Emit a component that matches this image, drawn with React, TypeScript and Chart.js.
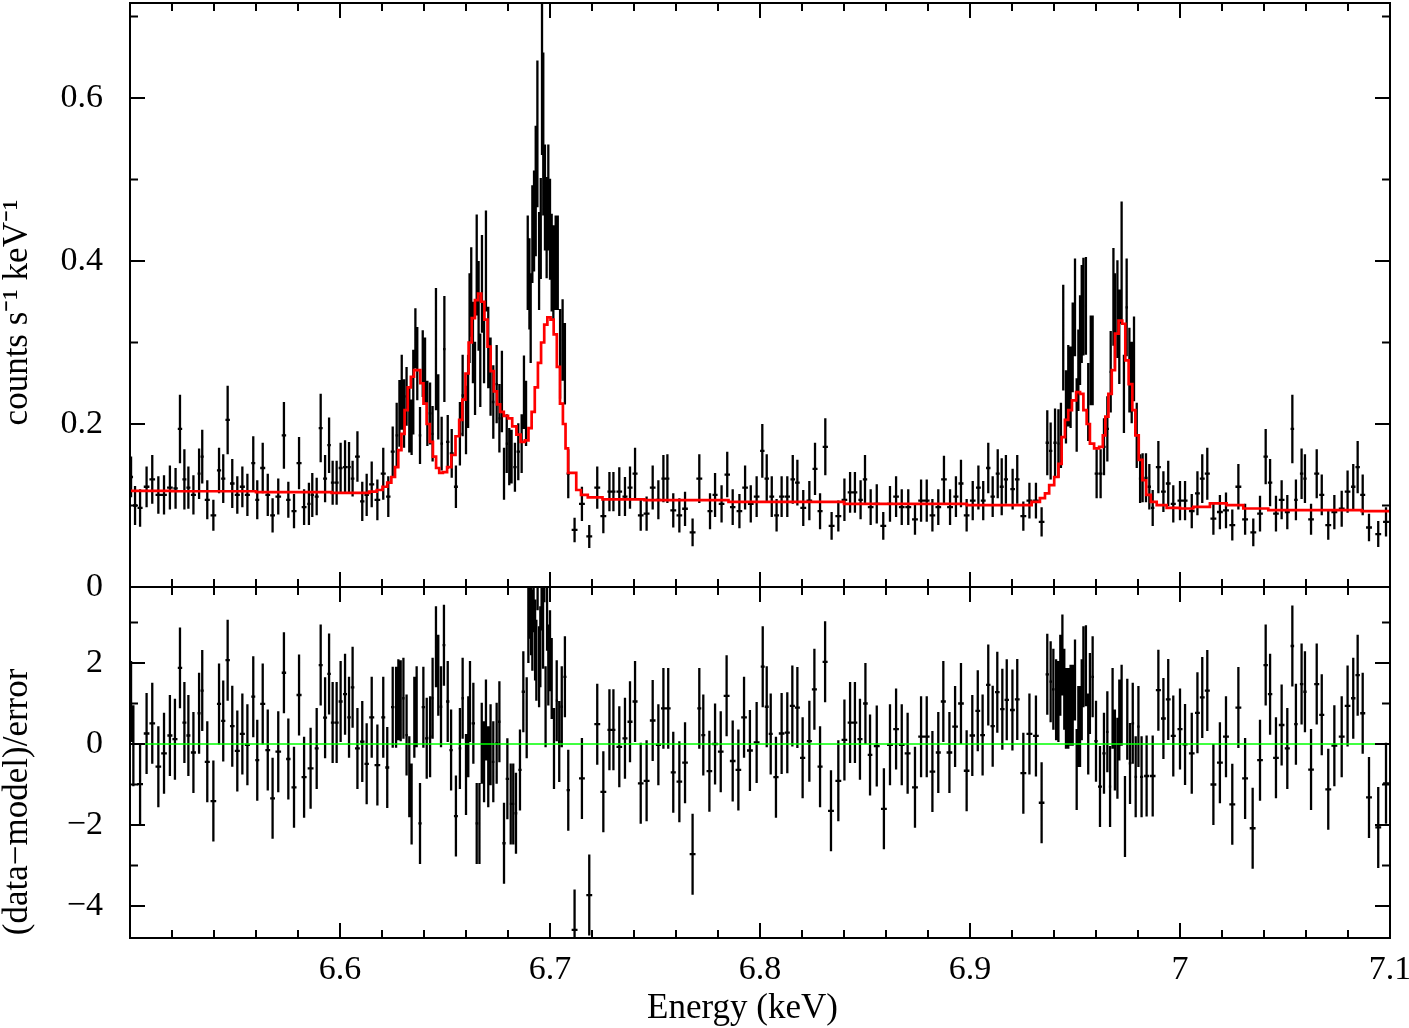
import React, { useEffect, useRef } from 'react';
import { Chart, registerables } from 'chart.js';

Chart.register(...registerables);

// ---------------- data: spectrum (top panel) ----------------
const topEnergy = [
  6.5005, 6.5024, 6.5048, 6.5079, 6.5106, 6.5135, 6.5162, 6.5190, 6.5217, 6.5238,
  6.5259, 6.5278, 6.5302, 6.5329, 6.5344, 6.5368, 6.5397, 6.5424, 6.5444, 6.5465,
  6.5487, 6.5511, 6.5535, 6.5559, 6.5587, 6.5606, 6.5632, 6.5656, 6.5679, 6.5706,
  6.5733, 6.5754, 6.5781, 6.5805, 6.5829, 6.5852, 6.5868, 6.5889, 6.5908, 6.5929,
  6.5948, 6.5965, 6.5984, 6.6003, 6.6024, 6.6043, 6.6060, 6.6083, 6.6106, 6.6127,
  6.6151, 6.6178,
  6.6206, 6.6230, 6.6251, 6.6270, 6.6283, 6.6294, 6.6305, 6.6317, 6.6330, 6.6341,
  6.6349, 6.6359, 6.6368, 6.6381, 6.6394, 6.6405, 6.6416, 6.6429, 6.6441, 6.6457,
  6.6468, 6.6484, 6.6497, 6.6513, 6.6532, 6.6552, 6.6571, 6.6584, 6.6600, 6.6610,
  6.6617, 6.6625, 6.6633, 6.6643, 6.6651, 6.6660, 6.6668, 6.6676, 6.6686, 6.6695,
  6.6706, 6.6717, 6.6730, 6.6746, 6.6759, 6.6771, 6.6781, 6.6794, 6.6806, 6.6817,
  6.6833, 6.6849, 6.6865, 6.6876, 6.6886,
  6.6894, 6.6902, 6.6908, 6.6916, 6.6924, 6.6932, 6.6940, 6.6948, 6.6956, 6.6962,
  6.6968, 6.6976, 6.6984, 6.6992, 6.7000, 6.7008, 6.7016, 6.7027, 6.7037, 6.7048,
  6.7060, 6.7071, 6.7087,
  6.7117, 6.7152, 6.7187, 6.7225, 6.7254, 6.7283, 6.7302, 6.7330, 6.7357, 6.7381,
  6.7405, 6.7432, 6.7460, 6.7489, 6.7516, 6.7540, 6.7559, 6.7587, 6.7616, 6.7643,
  6.7679, 6.7711,
  6.7762, 6.7786, 6.7817, 6.7844, 6.7870, 6.7902, 6.7929, 6.7956, 6.7984, 6.8011,
  6.8032, 6.8056, 6.8079, 6.8103, 6.8130, 6.8156, 6.8178, 6.8206, 6.8235, 6.8262,
  6.8286, 6.8311, 6.8341, 6.8373, 6.8402, 6.8429, 6.8452, 6.8479, 6.8500, 6.8527,
  6.8556, 6.8587, 6.8619, 6.8648, 6.8675, 6.8706, 6.8738, 6.8767, 6.8794, 6.8821,
  6.8849, 6.8876, 6.8905, 6.8933, 6.8957, 6.8984, 6.9013, 6.9040, 6.9063, 6.9087,
  6.9108, 6.9132,
  6.9151, 6.9171, 6.9203, 6.9225, 6.9254, 6.9283, 6.9314, 6.9341, 6.9368, 6.9384,
  6.9405, 6.9421, 6.9433, 6.9444, 6.9457, 6.9468, 6.9479, 6.9489, 6.9500, 6.9508,
  6.9516, 6.9524, 6.9532, 6.9540, 6.9552, 6.9563, 6.9575, 6.9584, 6.9603, 6.9622,
  6.9638, 6.9654, 6.9670, 6.9683, 6.9690, 6.9702, 6.9711, 6.9722, 6.9733, 6.9746,
  6.9759, 6.9770, 6.9781, 6.9794, 6.9810, 6.9822, 6.9838, 6.9854, 6.9870,
  6.9897, 6.9921, 6.9944, 6.9968, 7.0000, 7.0024, 7.0056, 7.0083, 7.0106, 7.0130,
  7.0159, 7.0190, 7.0219, 7.0249, 7.0278, 7.0310, 7.0349, 7.0381, 7.0408, 7.0429,
  7.0457, 7.0484, 7.0511, 7.0535, 7.0552, 7.0579, 7.0595, 7.0624, 7.0651, 7.0675,
  7.0706, 7.0735, 7.0770, 7.0798, 7.0825, 7.0846, 7.0870, 7.0900, 7.0944, 7.0981,
];

const topRate = [
  0.135, 0.100, 0.097, 0.123, 0.132, 0.113, 0.113, 0.122, 0.121, 0.194,
  0.132, 0.122, 0.113, 0.139, 0.160, 0.107, 0.088, 0.143, 0.133, 0.205,
  0.127, 0.113, 0.123, 0.113, 0.152, 0.107, 0.146, 0.113, 0.088, 0.111,
  0.186, 0.107, 0.093, 0.152, 0.098, 0.102, 0.113, 0.111, 0.195, 0.133,
  0.174, 0.128, 0.128, 0.146, 0.147, 0.147, 0.133, 0.160, 0.105, 0.113,
  0.126, 0.107,
  0.139, 0.111, 0.166, 0.186, 0.213, 0.239, 0.213, 0.234, 0.205, 0.196,
  0.239, 0.305, 0.274, 0.186, 0.274, 0.266, 0.213, 0.213, 0.188, 0.292,
  0.221, 0.176, 0.292, 0.178, 0.164, 0.123, 0.188, 0.235, 0.205, 0.240,
  0.330, 0.362, 0.300, 0.256, 0.395, 0.345, 0.266, 0.372, 0.300, 0.400,
  0.294, 0.258, 0.227, 0.249, 0.207, 0.240, 0.139, 0.176, 0.160, 0.160,
  0.147, 0.166, 0.176, 0.239, 0.213,
  0.398, 0.372, 0.330, 0.433, 0.449, 0.486, 0.556, 0.400, 0.440, 0.630,
  0.556, 0.478, 0.441, 0.478, 0.439, 0.398, 0.386, 0.398, 0.398, 0.286,
  0.303, 0.274, 0.139,
  0.070, 0.102, 0.062, 0.122, 0.087, 0.117, 0.117, 0.117, 0.111, 0.122,
  0.139, 0.088, 0.090, 0.122, 0.107, 0.133, 0.133, 0.094, 0.088, 0.096,
  0.067, 0.133,
  0.093, 0.113, 0.102, 0.138, 0.098, 0.093, 0.122, 0.102, 0.111, 0.167,
  0.133, 0.111, 0.088, 0.111, 0.111, 0.132, 0.128, 0.097, 0.106, 0.145,
  0.093, 0.172, 0.075, 0.087, 0.107, 0.116, 0.116, 0.107, 0.132, 0.098,
  0.102, 0.075, 0.102, 0.111, 0.098, 0.098, 0.083, 0.106, 0.106, 0.088,
  0.098, 0.132, 0.098, 0.111, 0.127, 0.088, 0.106, 0.122, 0.106, 0.146,
  0.111, 0.139,
  0.123, 0.132, 0.120, 0.132, 0.087, 0.106, 0.106, 0.080, 0.177, 0.167,
  0.177, 0.176, 0.186, 0.306, 0.221, 0.247, 0.245, 0.294, 0.343, 0.211,
  0.266, 0.303, 0.335, 0.344, 0.345, 0.227, 0.278, 0.278, 0.139, 0.139,
  0.172, 0.194, 0.264, 0.356, 0.327, 0.341, 0.307, 0.398, 0.237, 0.343,
  0.266, 0.251, 0.280, 0.186, 0.133, 0.134, 0.134, 0.123, 0.097,
  0.147, 0.117, 0.127, 0.102, 0.106, 0.106, 0.093, 0.115, 0.133, 0.139,
  0.084, 0.092, 0.094, 0.076, 0.123, 0.083, 0.067, 0.090, 0.160, 0.128,
  0.090, 0.107, 0.092, 0.194, 0.107, 0.139, 0.133, 0.083, 0.139, 0.113,
  0.076, 0.092, 0.096, 0.117, 0.123, 0.147, 0.113, 0.073, 0.065, 0.080,
];

const topRateErr = [
  0.025, 0.024, 0.023, 0.025, 0.030, 0.023, 0.024, 0.027, 0.025, 0.042,
  0.037, 0.026, 0.024, 0.031, 0.033, 0.024, 0.019, 0.028, 0.030, 0.042,
  0.030, 0.023, 0.025, 0.026, 0.033, 0.024, 0.031, 0.026, 0.021, 0.022,
  0.041, 0.022, 0.021, 0.032, 0.022, 0.026, 0.027, 0.023, 0.042, 0.029,
  0.034, 0.027, 0.027, 0.031, 0.033, 0.031, 0.022, 0.031, 0.024, 0.026,
  0.028, 0.025,
  0.032, 0.025, 0.031, 0.040, 0.041, 0.046, 0.042, 0.036, 0.040, 0.034,
  0.052, 0.037, 0.045, 0.035, 0.041, 0.040, 0.040, 0.038, 0.034, 0.075,
  0.040, 0.033, 0.065, 0.033, 0.030, 0.026, 0.039, 0.050, 0.042, 0.045,
  0.055, 0.055, 0.050, 0.045, 0.062, 0.055, 0.045, 0.060, 0.050, 0.062,
  0.050, 0.048, 0.045, 0.048, 0.042, 0.050, 0.032, 0.036, 0.035, 0.033,
  0.030, 0.035, 0.036, 0.045, 0.040,
  0.058, 0.056, 0.055, 0.060, 0.062, 0.080, 0.090, 0.060, 0.062, 0.100,
  0.100, 0.065, 0.062, 0.065, 0.062, 0.060, 0.058, 0.058, 0.058, 0.055,
  0.050, 0.050, 0.030,
  0.015, 0.021, 0.014, 0.026, 0.021, 0.024, 0.024, 0.030, 0.024, 0.026,
  0.032, 0.019, 0.021, 0.027, 0.024, 0.029, 0.030, 0.021, 0.021, 0.021,
  0.017, 0.030,
  0.022, 0.027, 0.023, 0.028, 0.022, 0.021, 0.027, 0.023, 0.025, 0.033,
  0.030, 0.025, 0.020, 0.025, 0.025, 0.030, 0.028, 0.022, 0.024, 0.032,
  0.022, 0.035, 0.017, 0.019, 0.026, 0.025, 0.025, 0.024, 0.030, 0.022,
  0.024, 0.017, 0.022, 0.025, 0.022, 0.022, 0.019, 0.026, 0.026, 0.020,
  0.022, 0.029, 0.022, 0.025, 0.029, 0.020, 0.024, 0.027, 0.024, 0.031,
  0.025, 0.030,
  0.035, 0.030, 0.025, 0.030, 0.018, 0.022, 0.022, 0.018, 0.040, 0.035,
  0.042, 0.042, 0.040, 0.065, 0.045, 0.050, 0.050, 0.055, 0.060, 0.045,
  0.050, 0.055, 0.060, 0.060, 0.060, 0.048, 0.055, 0.055, 0.030, 0.030,
  0.035, 0.040, 0.050, 0.060, 0.058, 0.060, 0.058, 0.075, 0.048, 0.060,
  0.052, 0.050, 0.052, 0.040, 0.030, 0.030, 0.030, 0.028, 0.022,
  0.032, 0.025, 0.028, 0.023, 0.024, 0.024, 0.021, 0.027, 0.030, 0.032,
  0.020, 0.021, 0.022, 0.019, 0.028, 0.019, 0.017, 0.022, 0.034, 0.029,
  0.022, 0.024, 0.021, 0.042, 0.025, 0.031, 0.030, 0.019, 0.030, 0.025,
  0.018, 0.021, 0.022, 0.026, 0.028, 0.032, 0.025, 0.017, 0.016, 0.018,
];

// ---------------- data: folded model (red histogram) ----------------
const modelEnergy = [
  6.500, 6.540, 6.580, 6.612, 6.616, 6.619, 6.6215, 6.6235, 6.6254, 6.6270,
  6.6285, 6.6300, 6.6315, 6.6330, 6.6345, 6.6360, 6.6375, 6.6390, 6.6405, 6.6420,
  6.6435, 6.6450, 6.6465, 6.6480, 6.6500, 6.6520, 6.6540, 6.6560, 6.6575, 6.6590,
  6.6605, 6.6620, 6.6635, 6.6650, 6.6665, 6.6680, 6.6695, 6.6710, 6.6725, 6.6740,
  6.6755, 6.6770, 6.6790, 6.6810, 6.6830, 6.6850, 6.6870, 6.6890, 6.6905, 6.6920,
  6.6935, 6.6950, 6.6965, 6.6980, 6.6995, 6.7010, 6.7025, 6.7040, 6.7055, 6.7068,
  6.7080, 6.7092, 6.7115, 6.7135, 6.7160, 6.7200, 6.7300, 6.7600, 6.8100, 6.8700,
  6.9270, 6.9317, 6.9349, 6.9365, 6.9389, 6.9413, 6.9429, 6.9444, 6.9460, 6.9476,
  6.9495, 6.9516, 6.9532, 6.9548, 6.9563, 6.9579, 6.9603, 6.9627, 6.9638, 6.9651,
  6.9667, 6.9683, 6.9698, 6.9717, 6.9733, 6.9746, 6.9765, 6.9781, 6.9794, 6.9813,
  6.9829, 6.9849, 6.9873, 6.9905, 6.9968, 7.0032, 7.0095, 7.0190, 7.0254, 7.0349,
  7.0492, 7.0730, 7.1000,
];
const modelRate = [
  0.118, 0.1175, 0.1165, 0.1155, 0.117, 0.119, 0.123, 0.128, 0.135, 0.147,
  0.168, 0.188, 0.217, 0.245, 0.258, 0.266, 0.266, 0.250, 0.225, 0.200,
  0.178, 0.160, 0.146, 0.140, 0.141, 0.147, 0.162, 0.185, 0.205, 0.230,
  0.262, 0.300, 0.330, 0.352, 0.360, 0.350, 0.328, 0.295, 0.265, 0.240,
  0.224, 0.215, 0.210, 0.207, 0.197, 0.187, 0.178, 0.180, 0.195, 0.215,
  0.245, 0.275, 0.300, 0.322, 0.331, 0.328, 0.310, 0.270, 0.225, 0.200,
  0.170, 0.140, 0.140, 0.119, 0.113, 0.110, 0.1075, 0.1066, 0.1045, 0.102,
  0.1004, 0.1045, 0.109, 0.115, 0.125, 0.135, 0.151, 0.184, 0.205, 0.217,
  0.229, 0.239, 0.237, 0.217, 0.200, 0.176, 0.170, 0.172, 0.186, 0.209,
  0.237, 0.266, 0.311, 0.327, 0.323, 0.278, 0.249, 0.217, 0.186, 0.156,
  0.131, 0.113, 0.1045, 0.1004, 0.0972, 0.0963, 0.0984, 0.1025, 0.1004, 0.0963,
  0.0943, 0.0943, 0.0931,
];

// ---------------- data: residuals (bottom panel) ----------------
const residEnergy = [
  6.5005, 6.5016, 6.5048, 6.5079, 6.5106, 6.5135, 6.5162, 6.5190, 6.5214, 6.5238,
  6.5259, 6.5278, 6.5302, 6.5329, 6.5344, 6.5368, 6.5397, 6.5424, 6.5444, 6.5465,
  6.5487, 6.5511, 6.5535, 6.5559, 6.5587, 6.5606, 6.5632, 6.5656, 6.5679, 6.5706,
  6.5733, 6.5754, 6.5781, 6.5805, 6.5829, 6.5860, 6.5889, 6.5908, 6.5929, 6.5948,
  6.5965, 6.5984, 6.6003, 6.6024, 6.6043, 6.6060, 6.6083, 6.6106, 6.6127, 6.6151,
  6.6178,
  6.6206, 6.6225, 6.6251, 6.6267, 6.6278, 6.6289, 6.6302, 6.6317, 6.6330, 6.6341,
  6.6354, 6.6365, 6.6381, 6.6397, 6.6413, 6.6429, 6.6441, 6.6457, 6.6468, 6.6481,
  6.6495, 6.6513, 6.6529, 6.6552, 6.6571, 6.6584, 6.6600, 6.6611, 6.6619, 6.6635,
  6.6651, 6.6664, 6.6675, 6.6686, 6.6695, 6.6706, 6.6717, 6.6730, 6.6746, 6.6759,
  6.6781, 6.6797, 6.6813, 6.6825, 6.6838, 6.6857, 6.6873, 6.6889,
  6.6897, 6.6903, 6.6910, 6.6916, 6.6922, 6.6929, 6.6935, 6.6941, 6.6948, 6.6954,
  6.6960, 6.6967, 6.6973, 6.6979, 6.6986, 6.6992, 6.7000, 6.7008, 6.7019, 6.7032,
  6.7044, 6.7056, 6.7071, 6.7087,
  6.7117, 6.7152, 6.7187, 6.7225, 6.7254, 6.7283, 6.7302, 6.7330, 6.7357, 6.7381,
  6.7405, 6.7432, 6.7460, 6.7489, 6.7516, 6.7540, 6.7563, 6.7587, 6.7616, 6.7643,
  6.7679, 6.7711, 6.7730, 6.7759, 6.7786, 6.7813, 6.7841, 6.7870, 6.7897, 6.7924,
  6.7952, 6.7984, 6.8013, 6.8032, 6.8051, 6.8076,
  6.8103, 6.8130, 6.8154, 6.8178, 6.8203, 6.8235, 6.8259, 6.8286, 6.8310, 6.8338,
  6.8373, 6.8402, 6.8429, 6.8452, 6.8476, 6.8502, 6.8524, 6.8556, 6.8590, 6.8619,
  6.8648, 6.8675, 6.8703, 6.8738, 6.8767, 6.8794, 6.8821, 6.8849, 6.8873, 6.8902,
  6.8929, 6.8957, 6.8984, 6.9011, 6.9037, 6.9060, 6.9087, 6.9108, 6.9130, 6.9154,
  6.9175, 6.9202, 6.9225,
  6.9254, 6.9283, 6.9314, 6.9341, 6.9368, 6.9384, 6.9397, 6.9410, 6.9421, 6.9430,
  6.9440, 6.9449, 6.9457, 6.9468, 6.9479, 6.9489, 6.9500, 6.9508, 6.9516, 6.9524,
  6.9532, 6.9540, 6.9552, 6.9563, 6.9571, 6.9584, 6.9600, 6.9619, 6.9638, 6.9654,
  6.9667, 6.9679, 6.9690, 6.9702, 6.9711, 6.9722, 6.9738, 6.9749, 6.9762, 6.9775,
  6.9789, 6.9802, 6.9817, 6.9841, 6.9870,
  6.9897, 6.9921, 6.9944, 6.9968, 7.0000, 7.0024, 7.0056, 7.0083, 7.0106, 7.0130,
  7.0159, 7.0190, 7.0219, 7.0249, 7.0278, 7.0310, 7.0346, 7.0381, 7.0408, 7.0429,
  7.0457, 7.0484, 7.0511, 7.0535, 7.0552, 7.0579, 7.0595, 7.0624, 7.0651, 7.0675,
  7.0706, 7.0735, 7.0770, 7.0798, 7.0825, 7.0846, 7.0870, 7.0900, 7.0944, 7.0981,
];

const residValue = [
  1.05, -0.04, -0.99, 0.26, 0.51, -0.56, -0.23, 0.21, 0.12, 1.88,
  0.53, 0.21, -0.21, 0.76, 1.32, -0.44, -1.41, 0.99, 0.57, 2.07,
  0.44, -0.17, 0.25, -0.02, 1.17, -0.40, 0.99, -0.15, -1.34, -0.19,
  1.76, -0.37, -1.07, 1.21, -0.82, -0.60, -0.11, 1.95, 0.65, 1.73,
  0.53, 0.53, 1.05, 1.23, 0.66, 1.40, -0.11, 0.06, -0.49, 0.66,
  -0.52,
  0.66, -0.58, 0.91, 0.91, 1.09, 1.07, 1.13, 0.22, -0.81, -1.48,
  0.66, 0.92, -1.96, 0.91, 0.14, 0.18, 1.13, 2.40, 1.70, 0.92,
  2.44, 1.05, -0.15, -1.78, -0.11, 1.13, -0.75, 0.18, 1.05, 0.51,
  -1.96, -1.96, 0.02, -0.44, 0.59, -0.56, -0.02, -0.44, 0.02, 0.55,
  -2.45, -0.86, -1.48, -1.48, -1.71, -0.64, 1.29, 0.65,
  3.00, 3.60, 3.19, 2.81, 3.76, 2.57, 2.07, 4.30, 1.91, 2.40,
  3.80, 2.86, 4.50, 0.92, 3.30, 1.95, 2.30, 1.62, -0.11, 1.07,
  0.06, 0.92, 1.66, -1.14,
  -4.59, -0.85, -3.73, 0.49, -1.18, 0.35, 0.35, -0.07, 0.14, 0.55,
  1.05, -0.97, -0.91, 0.58, -0.02, 0.88, 0.88, -0.70, -0.93, -0.46,
  -2.72, 0.88, 0.22, -0.67, 0.00, -0.19, 1.19, -0.42, -0.64, 0.66,
  -0.16, 0.04, 1.91, 0.92, 0.25, -0.82,
  0.26, 0.28, 0.94, 0.90, -0.34, 0.07, 1.35, -0.56, 2.03, -1.65,
  -0.91, 0.10, 0.53, 0.53, 0.12, 1.00, -0.27, -0.05, -1.60, -0.02,
  0.37, -0.02, -0.23, -1.07, 0.18, 0.18, -0.68, -0.21, 1.05, -0.21,
  0.43, 1.00, -0.66, 0.21, 0.82, 0.22, 1.46, 0.44, 1.28, 0.86,
  1.09, 0.84, 1.10,
  -0.72, 0.25, 0.20, -1.45, 1.72, 1.54, 1.35, 1.09, 1.05, 1.70,
  2.20, 1.35, 0.88, 0.88, 0.96, 0.96, 1.58, -0.63, 0.43, 0.43,
  1.09, 1.91, 1.93, 0.25, 1.25, 1.66, 0.07, -1.05, -0.23, 0.30,
  -1.05, 0.88, -0.15, -0.35, 0.59, 0.96, -1.79, 0.61, -0.48, 0.51,
  -0.81, 0.43, -0.81, -0.79, -0.79,
  1.33, 0.63, 1.10, 0.20, 0.37, -0.01, -0.23, 0.77, 1.15, 1.32,
  -1.00, -0.46, 0.18, -1.49, 0.90, -0.85, -2.08, -0.40, 1.95, 1.23,
  -0.34, 0.47, -0.11, 2.42, 0.49, 1.48, 1.29, -0.63, 1.48, 0.72,
  -1.12, -0.04, 0.18, 0.94, 1.13, 1.70, 0.76, -1.32, -2.06, -0.97,
];
// (data-model)/error residuals carry a ±1 error bar by definition
const RESID_ERR = 1;

// ---------------- axes ----------------
const X_MIN = 6.5;
const X_MAX = 7.1;
const xMajorTicks = [6.6, 6.7, 6.8, 6.9, 7.0, 7.1];
const xTickLabels = ['6.6', '6.7', '6.8', '6.9', '7', '7.1'];
const xMinorTicks = [
  6.52, 6.54, 6.56, 6.58, 6.62, 6.64, 6.66, 6.68, 6.72, 6.74, 6.76, 6.78,
  6.82, 6.84, 6.86, 6.88, 6.92, 6.94, 6.96, 6.98, 7.02, 7.04, 7.06, 7.08,
];
const TOP_Y_MIN = 0;
const TOP_Y_MAX = 0.7166;
const topYTicks = [0, 0.2, 0.4, 0.6];
const topYLabels = ['0', '0.2', '0.4', '0.6'];
const topYMinor = [0.1, 0.3, 0.5, 0.7];
const RES_Y_MIN = -4.79;
const RES_Y_MAX = 3.877;
const resYTicks = [-4, -2, 0, 2];
const resYLabels = ['\u22124', '\u22122', '0', '2'];
const resYMinor = [-3, -1, 1, 3];

const FONT = "'Liberation Serif', 'Times New Roman', serif";
const BAR_WIDTH = 2.3;

// ---------------- helpers ----------------
function binHalfWidths(xs: number[]): number[] {
  return xs.map((x, i) => {
    const gaps: number[] = [];
    if (i > 0) gaps.push(x - xs[i - 1]);
    if (i < xs.length - 1) gaps.push(xs[i + 1] - x);
    return Math.min(Math.min(...gaps) / 2, 0.0014);
  });
}

function errorBarPoints(xs: number[], ys: number[], errs: number[]) {
  const hw = binHalfWidths(xs);
  const pts: { x: number; y: number | null }[] = [];
  xs.forEach((x, i) => {
    const y = ys[i];
    const e = errs[i];
    pts.push({ x, y: y - e }, { x, y: y + e }, { x, y: null });
    pts.push({ x: x - hw[i], y }, { x: x + hw[i], y }, { x, y: null });
  });
  return pts;
}

const framePlugin = {
  id: 'xspecFrame',
  beforeDatasetsDraw(chart: any) {
    const { ctx, chartArea: a } = chart;
    ctx.save();
    ctx.beginPath();
    ctx.rect(a.left, a.top, a.right - a.left, a.bottom - a.top);
    ctx.clip();
  },
  afterDatasetsDraw(chart: any) {
    chart.ctx.restore();
  },
  afterDraw(chart: any, _args: any, opts: any) {
    const { ctx, chartArea: a, scales } = chart;
    const xs = scales.x;
    const ys = scales.y;
    ctx.save();
    ctx.strokeStyle = '#000';
    ctx.lineWidth = 2;
    ctx.beginPath();
    const vTicks = (vals: number[], len: number) =>
      vals.forEach((v) => {
        const p = xs.getPixelForValue(v);
        ctx.moveTo(p, a.bottom);
        ctx.lineTo(p, a.bottom - len);
        ctx.moveTo(p, a.top);
        ctx.lineTo(p, a.top + len);
      });
    const hTicks = (vals: number[], len: number) =>
      vals.forEach((v) => {
        const p = ys.getPixelForValue(v);
        ctx.moveTo(a.left, p);
        ctx.lineTo(a.left + len, p);
        ctx.moveTo(a.right, p);
        ctx.lineTo(a.right - len, p);
      });
    vTicks(opts.xMajor, 15);
    vTicks(opts.xMinor, 8);
    hTicks(opts.yMajor, 15);
    hTicks(opts.yMinor, 8);
    ctx.stroke();
    ctx.strokeRect(a.left, a.top, a.right - a.left, a.bottom - a.top);
    ctx.restore();
  },
};

function yAxis(min: number, max: number, ticks: number[], labels: string[], title: string) {
  return {
    type: 'linear',
    position: 'left',
    min,
    max,
    afterFit: (s: any) => {
      s.width = 130;
      s.paddingTop = 0;
      s.paddingBottom = 0;
    },
    afterBuildTicks: (s: any) => {
      s.ticks = ticks.map((v) => ({ value: v }));
    },
    grid: { display: false, drawTicks: false },
    border: { display: false },
    ticks: {
      padding: 27,
      color: '#000',
      font: { family: FONT, size: 34 },
      callback: (_v: any, i: number) => labels[i],
    },
    title: {
      display: true,
      text: title,
      color: '#000',
      font: { family: FONT, size: 35, lineHeight: 1 },
      padding: 0,
    },
  };
}

export default function App() {
  const topRef = useRef<HTMLCanvasElement>(null);
  const botRef = useRef<HTMLCanvasElement>(null);

  useEffect(() => {
    document.body.style.margin = '0';

    const top = new Chart(topRef.current as HTMLCanvasElement, {
      type: 'line',
      data: {
        datasets: [
          {
            label: 'model',
            data: modelEnergy.map((x, i) => ({ x, y: modelRate[i] })),
            borderColor: '#ff0000',
            borderWidth: 2.7,
            pointRadius: 0,
            stepped: 'middle',
            fill: false,
            clip: false,
          },
          {
            label: 'data',
            data: errorBarPoints(topEnergy, topRate, topRateErr),
            borderColor: '#000000',
            borderWidth: BAR_WIDTH,
            pointRadius: 0,
            spanGaps: false,
            fill: false,
            clip: false,
          },
        ],
      } as any,
      options: {
        animation: false,
        responsive: false,
        maintainAspectRatio: false,
        events: [],
        layout: { padding: { left: 0, right: 19, top: 3, bottom: 13 } },
        plugins: {
          legend: { display: false },
          tooltip: { enabled: false },
          xspecFrame: { xMajor: xMajorTicks, xMinor: xMinorTicks, yMajor: topYTicks, yMinor: topYMinor },
        },
        scales: {
          x: { type: 'linear', min: X_MIN, max: X_MAX, display: false },
          y: yAxis(TOP_Y_MIN, TOP_Y_MAX, topYTicks, topYLabels, 'counts s\u207B\u00B9 keV\u207B\u00B9\u2003'),
        },
      } as any,
      plugins: [framePlugin as any],
    });

    const bot = new Chart(botRef.current as HTMLCanvasElement, {
      type: 'line',
      data: {
        datasets: [
          {
            label: 'zero',
            data: [
              { x: X_MIN, y: 0 },
              { x: X_MAX, y: 0 },
            ],
            borderColor: '#00ff00',
            borderWidth: 1.5,
            pointRadius: 0,
            fill: false,
            clip: false,
          },
          {
            label: 'residuals',
            data: errorBarPoints(residEnergy, residValue, residEnergy.map(() => RESID_ERR)),
            borderColor: '#000000',
            borderWidth: BAR_WIDTH,
            pointRadius: 0,
            spanGaps: false,
            fill: false,
            clip: false,
          },
        ],
      } as any,
      options: {
        animation: false,
        responsive: false,
        maintainAspectRatio: false,
        events: [],
        layout: { padding: { left: 0, right: 19, top: 7, bottom: 0 } },
        plugins: {
          legend: { display: false },
          tooltip: { enabled: false },
          xspecFrame: { xMajor: xMajorTicks, xMinor: xMinorTicks, yMajor: resYTicks, yMinor: resYMinor },
        },
        scales: {
          x: {
            type: 'linear',
            position: 'bottom',
            min: X_MIN,
            max: X_MAX,
            afterFit: (s: any) => {
              s.height = 90;
              s.paddingLeft = 0;
              s.paddingRight = 0;
            },
            afterBuildTicks: (s: any) => {
              s.ticks = xMajorTicks.map((v) => ({ value: v }));
            },
            grid: { display: false, drawTicks: false },
            border: { display: false },
            ticks: {
              autoSkip: false,
              maxRotation: 0,
              padding: 12,
              color: '#000',
              font: { family: FONT, size: 34 },
              callback: (_v: any, i: number) => xTickLabels[i],
            },
            title: {
              display: true,
              text: 'Energy (keV)\u2003',
              color: '#000',
              font: { family: FONT, size: 35, lineHeight: 1 },
              padding: { top: 0, bottom: 2 },
            },
          },
          y: yAxis(RES_Y_MIN, RES_Y_MAX, resYTicks, resYLabels, '(data\u2212model)/error\u2003\u2003 '),
        },
      } as any,
      plugins: [framePlugin as any],
    });

    return () => {
      top.destroy();
      bot.destroy();
    };
  }, []);

  return (
    <div style={{ position: 'absolute', left: 0, top: 0, width: 1409, height: 1028, background: '#fff' }}>
      <canvas ref={topRef} width={1409} height={600} style={{ position: 'absolute', left: 0, top: 0 }} />
      <canvas ref={botRef} width={1409} height={448} style={{ position: 'absolute', left: 0, top: 580 }} />
    </div>
  );
}
